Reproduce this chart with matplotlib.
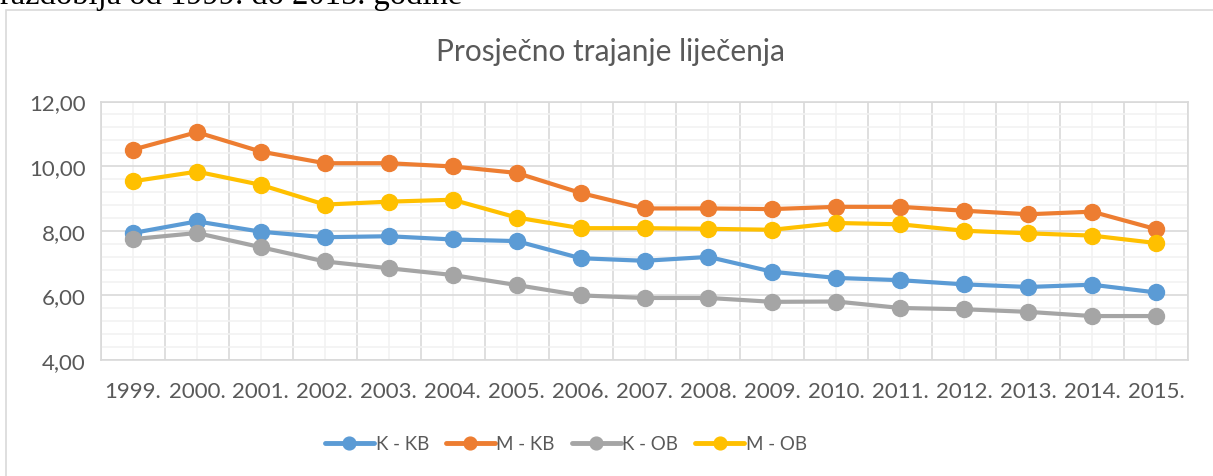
import matplotlib.pyplot as plt
from matplotlib.patches import Rectangle
from matplotlib.ticker import MultipleLocator, FixedLocator

# --- data ---
years = ["1999.", "2000.", "2001.", "2002.", "2003.", "2004.", "2005.", "2006.", "2007.",
         "2008.", "2009.", "2010.", "2011.", "2012.", "2013.", "2014.", "2015."]
k_kb = [7.93, 8.29, 7.97, 7.80, 7.83, 7.73, 7.68, 7.15, 7.07, 7.19, 6.73, 6.54, 6.47, 6.34, 6.26, 6.33, 6.09]
m_kb = [10.51, 11.05, 10.45, 10.09, 10.09, 9.99, 9.79, 9.17, 8.69, 8.69, 8.67, 8.74, 8.74, 8.62, 8.51, 8.59, 8.05]
k_ob = [7.74, 7.93, 7.49, 7.05, 6.84, 6.63, 6.32, 6.00, 5.92, 5.92, 5.80, 5.81, 5.61, 5.57, 5.49, 5.36, 5.36]
m_ob = [9.53, 9.83, 9.42, 8.81, 8.90, 8.96, 8.41, 8.08, 8.08, 8.06, 8.03, 8.24, 8.20, 8.00, 7.92, 7.85, 7.62]

series = [("K - KB", k_kb, "#5B9BD5"),
          ("M - KB", m_kb, "#ED7D31"),
          ("K - OB", k_ob, "#A5A5A5"),
          ("M - OB", m_ob, "#FFC000")]

plt.rcParams['font.family'] = ['Lato', 'DejaVu Sans']

W, H = 1213, 477
fig = plt.figure(figsize=(W / 100, H / 100), dpi=100)

# chart area border (runs off the right and bottom edge)
fig.patches.append(Rectangle((6 / W, -0.1), 1.2, 1 - 11 / H + 0.1, transform=fig.transFigure,
                             fill=False, edgecolor="#D9D9D9", linewidth=1.2))

# cut-off document text above the chart
fig.text(0, 1 - 4 / H, "razdoblja od 1999. do 2015. godine", family="Liberation Serif",
         fontsize=23.5, va="baseline", ha="left", color="black")

ax = fig.add_axes([101 / W, 1 - 361 / H, (1188 - 101) / W, (361 - 102.5) / H])

x = list(range(len(years)))
for name, vals, col in series:
    ax.plot(x, vals, color=col, linewidth=3, marker="o", markersize=11.5,
            solid_capstyle="round", label=name, zorder=3)

ax.set_xlim(-0.5, len(years) - 0.5)
ax.set_ylim(4, 12)
ax.yaxis.set_major_locator(MultipleLocator(2))
ax.yaxis.set_minor_locator(MultipleLocator(0.4))
ax.set_yticks([4, 6, 8, 10, 12])
ax.set_yticklabels(["4,00", "6,00", "8,00", "10,00", "12,00"])
ax.set_xticks(x)
ax.set_xticklabels(years)
ax.xaxis.set_minor_locator(FixedLocator([i - 0.5 for i in range(len(years) + 1)]))

# Excel style grid: dark lines at category borders, light ones at centres
ax.grid(which="minor", axis="y", color="#F2F2F2", linewidth=1.2, zorder=0)
ax.grid(which="major", axis="y", color="#D9D9D9", linewidth=1.2, zorder=1)
ax.grid(which="major", axis="x", color="#F2F2F2", linewidth=1.2, zorder=0)
ax.grid(which="minor", axis="x", color="#D9D9D9", linewidth=1.2, zorder=1)
ax.set_axisbelow(True)

for s in ax.spines.values():
    s.set_color("#D9D9D9")
    s.set_linewidth(1.2)

ax.tick_params(which="both", length=0)
ax.tick_params(axis="y", pad=11, labelsize=16, labelcolor="#595959")
ax.tick_params(axis="x", pad=15, labelsize=16, labelcolor="#595959")

fig.text(611 / W, 1 - 52 / H, "Prosječno trajanje liječenja", ha="center", va="center",
         fontsize=21.5, color="#595959")

leg = fig.legend(loc="center", bbox_to_anchor=(566 / W, 1 - 445 / H), ncol=4, frameon=False,
                 fontsize=13.5, handlelength=2.6, handletextpad=0.1, columnspacing=0.9,
                 markerscale=0.8, borderpad=0)
for line in leg.get_lines():
    line.set_linewidth(3.5)
for t in leg.get_texts():
    t.set_color("#595959")

fig.savefig("out.png", dpi=100)
